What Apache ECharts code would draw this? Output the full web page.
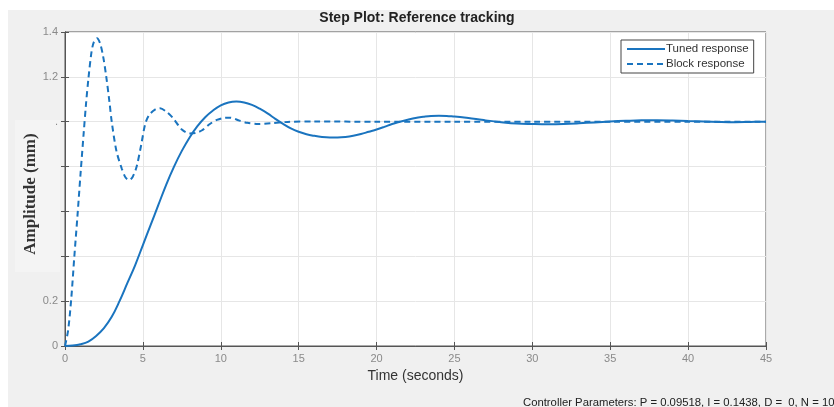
<!DOCTYPE html>
<html>
<head>
<meta charset="utf-8">
<script src="https://cdn.jsdelivr.net/npm/echarts@6/dist/echarts.min.js"></script>
<style>html,body{margin:0;padding:0;background:#fff}#c{width:834px;height:407px}</style>
</head>
<body>
<div id="c"></div>
<script>
// Tuned response (solid)
const tunedT = [0,0.5,1,1.5,2,2.5,3,3.5,4,4.5,5,5.5,6,6.5,7,7.5,8,8.5,9,9.5,10,10.5,11,11.5,12,12.5,13,13.5,14,14.5,15,15.5,16,16.5,17,17.5,18,18.5,19,19.5,20,20.5,21,21.5,22,22.5,23,23.5,24,24.5,25,25.5,26,26.5,27,28,29,30,31,32,33,34,35,36,37,38,39,40,41,42,43,44,45];
const tunedY = [0,0.002,0.008,0.02,0.045,0.08,0.13,0.2,0.28,0.36,0.45,0.54,0.63,0.72,0.8,0.87,0.93,0.98,1.02,1.05,1.073,1.086,1.09,1.086,1.075,1.058,1.037,1.013,0.99,0.97,0.955,0.944,0.937,0.932,0.93,0.93,0.932,0.937,0.945,0.955,0.965,0.977,0.99,1.0,1.009,1.017,1.022,1.026,1.027,1.026,1.023,1.02,1.015,1.011,1.006,0.998,0.992,0.99,0.989,0.99,0.993,0.997,1.001,1.004,1.006,1.006,1.005,1.003,1.001,0.999,0.998,0.999,1.0];
// Block response (dashed)
const blockT = [0,0.2,0.4,0.6,0.8,1.0,1.2,1.35,1.5,1.7,1.85,2.05,2.25,2.45,2.65,2.85,3.0,3.3,3.65,3.9,4.12,4.35,4.6,4.9,5.15,5.4,5.8,6.1,6.5,6.95,7.5,8.0,8.4,8.8,9.3,9.75,10.2,10.6,11.2,11.7,12.4,13.2,14.3,16,20,25,30,35,40,45];
const blockY = [0,0.07,0.21,0.4,0.58,0.77,0.95,1.08,1.19,1.31,1.355,1.372,1.35,1.29,1.2,1.09,1.0,0.87,0.79,0.75,0.74,0.755,0.8,0.9,0.99,1.03,1.055,1.06,1.045,1.015,0.965,0.948,0.95,0.962,0.99,1.008,1.017,1.018,1.005,0.995,0.99,0.993,0.999,1.001,1.0,1.0,1.0,1.0,1.0,1.0];
const xTicks = [0,5,10,15,20,25,30,35,40,45];
const yTickLabels = {'0':'0','0.2':'0.2','0.4':'','0.6':'','0.8':'','1':'.','1.2':'1.2','1.4':'1.4'};

const blue = '#1a74bf';
const pair = (t, y) => t.map((v, i) => [v, y[i]]);

const chart = echarts.init(document.getElementById('c'), null, {renderer: 'canvas'});
chart.setOption({
  backgroundColor: '#fff',
  animation: false,
  graphic: [
    {type: 'rect', z: -20, silent: true, shape: {x: 8, y: 10, width: 826, height: 397}, style: {fill: '#f0f0f0'}},
    {type: 'rect', z: -10, silent: true, shape: {x: 15, y: 120, width: 45, height: 152}, style: {fill: '#f4f4f4'}}
  ],
  title: [
    {text: 'Step Plot: Reference tracking', left: 'center', top: 11, padding: 0,
     textStyle: {fontFamily: 'Liberation Sans', fontSize: 14, fontWeight: 'bold', color: '#222'}},
    {text: 'Controller Parameters: P = 0.09518, I = 0.1438, D =  0, N = 100', left: 523, top: 397, padding: 0,
     textStyle: {fontFamily: 'Liberation Sans', fontSize: 11.3, fontWeight: 'normal', color: '#222'}}
  ],
  legend: {
    orient: 'vertical', left: 621, top: 40,
    backgroundColor: '#fff', borderColor: '#444', borderWidth: 1, padding: [3, 5, 3, 5],
    itemWidth: 38, itemHeight: 10, itemGap: 3,
    itemStyle: {opacity: 0},
    textStyle: {fontFamily: 'Liberation Sans', fontSize: 11.5, color: '#333', padding: [0, 0, 0, -4]},
    data: ['Tuned response', 'Block response']
  },
  grid: {left: 65, right: 68, top: 32, bottom: 61, show: true, backgroundColor: '#fff', borderColor: '#555', borderWidth: 1},
  xAxis: [
    {type: 'value', min: 0, max: 45, interval: 5,
     name: 'Time (seconds)', nameLocation: 'middle', nameGap: 20,
     nameTextStyle: {fontFamily: 'Liberation Sans', fontSize: 14, color: '#333'},
     axisLine: {show: true, lineStyle: {color: '#555'}},
     axisTick: {show: true, inside: true, length: 4, lineStyle: {color: '#555'}},
     axisLabel: {fontFamily: 'Liberation Sans', fontSize: 11, color: '#8a8a8a', margin: 7},
     splitLine: {show: true, lineStyle: {color: '#e6e6e6'}}},
    {type: 'value', min: 0, max: 45, interval: 5, position: 'top',
     axisLine: {show: true, lineStyle: {color: '#555'}},
     axisTick: {show: true, inside: true, length: 4, lineStyle: {color: '#555'}},
     axisLabel: {show: false}, splitLine: {show: false}}
  ],
  yAxis: [
    {type: 'value', min: 0, max: 1.4, interval: 0.2,
     name: 'Amplitude (mm)', nameLocation: 'middle', nameGap: 26, nameRotate: 90, nameMoveOverlap: false,
     nameTextStyle: {fontFamily: 'Liberation Serif', fontSize: 17, fontWeight: 'bold', color: '#333', padding: [0, 10, 0, 0]},
     axisLine: {show: true, lineStyle: {color: '#555'}},
     axisTick: {show: true, inside: true, length: 4, lineStyle: {color: '#555'}},
     axisLabel: {fontFamily: 'Liberation Sans', fontSize: 11, color: '#8a8a8a', margin: 7,
       formatter: v => { const k = String(Math.round(v * 10) / 10); return k in yTickLabels ? yTickLabels[k] : k; }},
     splitLine: {show: true, lineStyle: {color: '#e6e6e6'}}},
    {type: 'value', min: 0, max: 1.4, interval: 0.2, position: 'right',
     axisLine: {show: true, lineStyle: {color: '#555'}},
     axisTick: {show: true, inside: true, length: 4, lineStyle: {color: '#555'}},
     axisLabel: {show: false}, splitLine: {show: false}}
  ],
  series: [
    {name: 'Tuned response', type: 'line', data: pair(tunedT, tunedY), smooth: 0.4, symbol: 'none',
     lineStyle: {color: blue, width: 2}, itemStyle: {color: blue}},
    {name: 'Block response', type: 'line', data: pair(blockT, blockY), smooth: 0.3, symbol: 'none',
     lineStyle: {color: blue, width: 2, type: [6, 4]}, itemStyle: {color: blue}}
  ]
});
</script>
</body>
</html>
